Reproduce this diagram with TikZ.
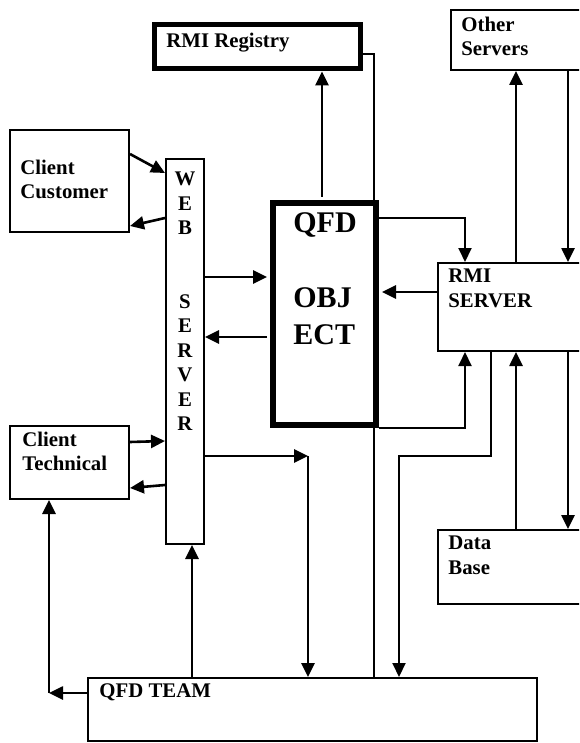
\documentclass[tikz,border=0pt]{standalone}
\usepackage{fontspec}
\setmainfont{Liberation Serif}
\usetikzlibrary{arrows.meta,positioning,fit}

\tikzset{
  box/.style={draw, line width=1pt, inner sep=0pt},
  thickbox/.style={draw, line width=3pt, inner sep=0pt},
  tag/.style={anchor=north west, inner sep=0pt, align=left,
    font=\fontsize{10.4}{12.25}\selectfont\bfseries},
  arr/.style={-{Triangle[length=7pt,width=6.5pt]}, line width=1.3pt},
  wire/.style={line width=1pt},
}

\begin{document}
\begin{tikzpicture}[x=0.5pt,y=-0.5pt]
  \clip (0,0) rectangle (579,743);
  % boxes
  \node[box, line width=2.5pt, fit={(154,25) (360,69)}] (reg) {};
  \node[box, fit={(10,130) (129,232)}] (cust) {};
  \node[box, fit={(166,159) (204,544)}] (web) {};
  \node[box, fit={(10,426) (129,499)}] (tech) {};
  \node[thickbox, fit={(273,203) (376,425)}] (obj) {};
  \node[box, fit={(451,10) (620,70)}] (other) {};
  \node[box, fit={(438,263) (620,351)}] (rmi) {};
  \node[box, fit={(438,530) (620,604)}] (db) {};
  \node[box, fit={(88,678) (537,741)}] (team) {};

  % texts
  \node[tag] (regtxt) at (166,33) {RMI Registry};
  \node[tag] (custtxt) at (20,159.5) {Client\\Customer};
  \node[tag] (techtxt) at (22,431.5) {Client\\Technical};
  \node[tag] (othertxt) at (461,16.5) {Other\\Servers};
  \node[tag] (rmitxt) at (448,268.5) {RMI\\SERVER};
  \node[tag] (dbtxt) at (448,535.5) {Data\\Base};
  \node[tag] (teamtxt) at (99,683.5) {QFD TEAM};
  \node[tag, align=center, anchor=north] (webtxt) at (185,171.5)
    {W\\E\\B\\~\\~\\S\\E\\R\\V\\E\\R};
  \node[tag, font=\fontsize{15}{18.75}\selectfont\bfseries] (objtxt) at (293,212)
    {QFD\\~\\OBJ\\ECT};

  \coordinate (k1) at (308,456);
  \coordinate (k2) at (399,456);
  \coordinate (k3) at (49,693);

  % clients <-> web server
  \draw[arr] (cust.east |- 0,154) -- (web.west |- 0,173);
  \draw[arr] (web.west |- 0,218) -- (cust.east |- 0,226);
  \draw[arr] (tech.east |- 0,442) -- (web.west |- 0,441);
  \draw[arr] (web.west |- 0,485) -- (tech.east |- 0,488);
  % web server <-> object
  \draw[arr, shorten >=1.5pt] (web.east |- 0,277) -- (obj.west |- 0,277);
  \draw[arr, shorten <=1.5pt] (obj.west |- 0,337) -- (web.east |- 0,337);
  \draw[arr, shorten <=1.5pt] (obj.north -| 322,0) -- (reg.south -| 322,0);
  \draw[wire] (reg.east |- 0,54) -| (team.north -| 374,0);
  % object <-> rmi server
  \draw[arr, line width=1pt] (obj.east |- 0,218) -| (rmi.north -| 465,0);
  \draw[arr, shorten >=1.5pt] (rmi.west |- 0,292) -- (obj.east |- 0,292);
  \draw[arr, line width=1pt] (obj.south east) -| (rmi.south -| 465,0);
  \draw[arr] (rmi.north -| 516,0) -- (other.south -| 516,0);
  \draw[arr] (other.south -| 568,0) -- (rmi.north -| 568,0);
  \draw[arr] (db.north -| 516,0) -- (rmi.south -| 516,0);
  \draw[arr] (rmi.south -| 568,0) -- (db.north -| 568,0);
  \draw[arr, line width=1pt] (rmi.south -| 491,0) |- (k2) -- (team.north -| k2);
  % team
  \draw[arr] (web.east |- k1) -- (k1);
  \draw[arr] (k1) -- (team.north -| k1);
  \draw[arr] (team.north -| 192,0) -- (web.south -| 192,0);
  \draw[arr] (team.west |- k3) -- (k3);
  \draw[arr] (k3) -- (tech.south -| k3);
\end{tikzpicture}
\end{document}
